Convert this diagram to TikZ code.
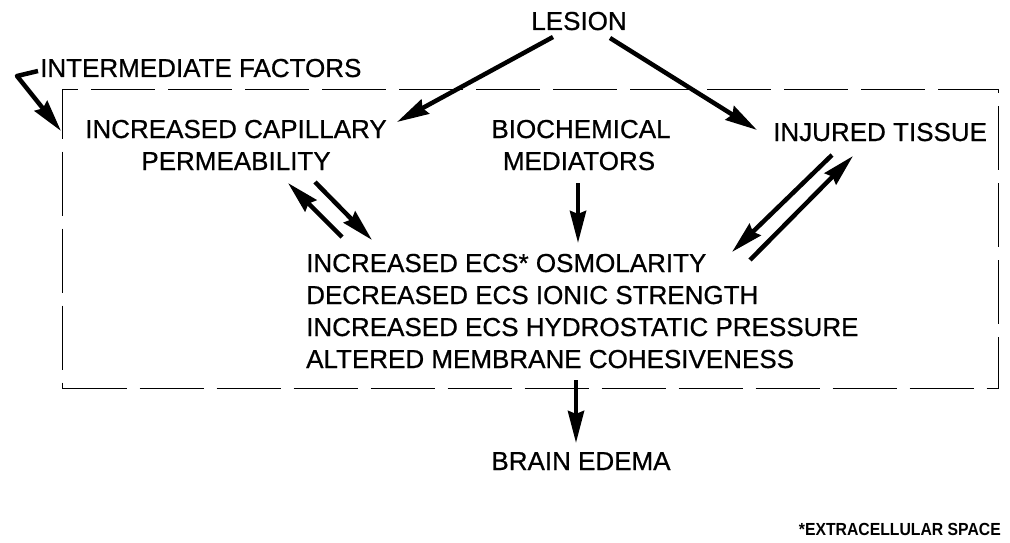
\documentclass[tikz,border=0pt]{standalone}
\usepackage{fontspec}
\setmainfont{Liberation Sans}
\newfontfamily\lblfont{Liberation Sans}[FakeBold=0.7]
\newfontfamily\notefont{Liberation Sans Bold}
\usetikzlibrary{arrows.meta}
\begin{document}
\begin{tikzpicture}[x=1pt,y=-1pt,
  lbl/.style={inner sep=0pt, font=\lblfont\fontsize{26}{30}\selectfont},
  lblw/.style={lbl, anchor=base west},
  lblc/.style={lbl, anchor=base},
  note/.style={inner sep=0pt, anchor=base east, font=\notefont\fontsize{17.5}{20}\selectfont},
  arr/.style={line width=4.5pt, -{Stealth[length=32pt,width=16pt,inset=3pt]}},
  factbox/.style={draw, line width=1.3pt, dash pattern=on 64pt off 13pt, inner sep=0pt, anchor=north west, minimum width=936pt, minimum height=299pt}]
\useasboundingbox (0,0) rectangle (1010,543);
\fill[white] (0,0) rectangle (1010,543);

% box
\node[factbox] (box) at (62,89) {};

% labels
\node[lblc] (lesion) at (579,30) {LESION};
\node[lblw] (interm) at (40,77) {INTERMEDIATE FACTORS};
\node[lblc] (cap1) at (236,138) {INCREASED CAPILLARY};
\node[lblc] (cap2) at (236,170) {PERMEABILITY};
\node[lblc] (bio1) at (581,138) {BIOCHEMICAL};
\node[lblc] (bio2) at (579,170) {MEDIATORS};
\node[lblw] (inj) at (773,141) {INJURED TISSUE};
\node[lblw] (l1) at (306,272) {INCREASED ECS* OSMOLARITY};
\node[lblw] (l2) at (306,304) {DECREASED ECS IONIC STRENGTH};
\node[lblw] (l3) at (306,336) {INCREASED ECS HYDROSTATIC PRESSURE};
\node[lblw] (l4) at (306,368) {ALTERED MEMBRANE COHESIVENESS};
\node[lblc] (edema) at (581,470) {BRAIN EDEMA};
\node[note] (ecs) at (1001,535) {\scalebox{0.9}[1]{*EXTRACELLULAR SPACE}};

% connector end points
\coordinate (lesL) at (553,37);
\coordinate (lesR) at (610,38);
\coordinate (capT) at (397,122);
\coordinate (injT) at (757,130);
\coordinate (intA) at (38,71);
\coordinate (intB) at (17,76);
\coordinate (boxT) at (61,131);
\coordinate (c1s) at (342,237);
\coordinate (c1e) at (288,183);
\coordinate (c2s) at (315,182);
\coordinate (c2e) at (372,240);
\coordinate (bioS) at (578,183);
\coordinate (bioE) at (578,243);
\coordinate (i1s) at (832,155);
\coordinate (i1e) at (732,252);
\coordinate (i2s) at (750,260);
\coordinate (i2e) at (853,156);
\coordinate (edS) at (576,380);
\coordinate (edE) at (576,443);

% connectors
\draw[arr, line join=round] (intA) -- (intB) -- (boxT);
\draw[arr] (lesL) -- (capT);
\draw[arr] (lesR) -- (injT);
\draw[arr] (c1s) -- (c1e);
\draw[arr] (c2s) -- (c2e);
\draw[arr] (bioS) -- (bioE);
\draw[arr] (i1s) -- (i1e);
\draw[arr] (i2s) -- (i2e);
\draw[arr] (edS) -- (edE);
\end{tikzpicture}
\end{document}
